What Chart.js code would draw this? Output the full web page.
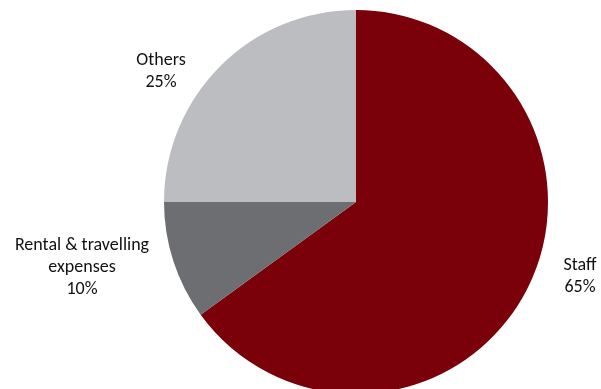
<!DOCTYPE html>
<html lang="en">
<head>
    <meta charset="UTF-8">
    <title>Cost breakdown</title>
    <script src="https://cdn.jsdelivr.net/npm/chart.js"></script>
    <style>
        html, body { margin: 0; padding: 0; background: #fff; overflow: hidden; }
        #wrap { width: 601px; height: 400px; }
    </style>
</head>
<body>
    <div id="wrap"><canvas id="pie" width="601" height="400"></canvas></div>
    <script>
        // data
        const categories = ['Staff', 'Rental & travelling expenses', 'Others'];
        const shares = [65, 10, 25];
        const labelLines = [['Staff'], ['Rental & travelling', 'expenses'], ['Others']];

        const colors = ['#7A0009', '#6D6E71', '#BCBDC0'];
        // where each label block is centred (text only)
        const labelAnchors = [
            { x: 580, y: 276 },
            { x: 82, y: 267 },
            { x: 161, y: 71 }
        ];

        const outsideLabels = {
            id: 'outsideLabels',
            afterDraw(chart) {
                const ctx = chart.ctx;
                const lineH = 22;
                ctx.save();
                ctx.font = '18px Carlito, Lato, sans-serif';
                ctx.fillStyle = '#111';
                ctx.textAlign = 'center';
                ctx.textBaseline = 'middle';
                chart.data.datasets[0].data.forEach((v, i) => {
                    const lines = labelLines[i].concat([v + '%']);
                    const a = labelAnchors[i];
                    const top = a.y - (lines.length - 1) * lineH / 2;
                    lines.forEach((t, k) => ctx.fillText(t, a.x, top + k * lineH));
                });
                ctx.restore();
            }
        };

        new Chart(document.getElementById('pie'), {
            type: 'pie',
            data: {
                labels: categories,
                datasets: [{
                    data: shares,
                    backgroundColor: colors,
                    borderWidth: 0
                }]
            },
            options: {
                responsive: false,
                animation: false,
                layout: { padding: { left: 164, right: 53, top: 10, bottom: 6 } },
                plugins: {
                    legend: { display: false },
                    tooltip: { enabled: false }
                }
            },
            plugins: [outsideLabels]
        });
    </script>
</body>
</html>
